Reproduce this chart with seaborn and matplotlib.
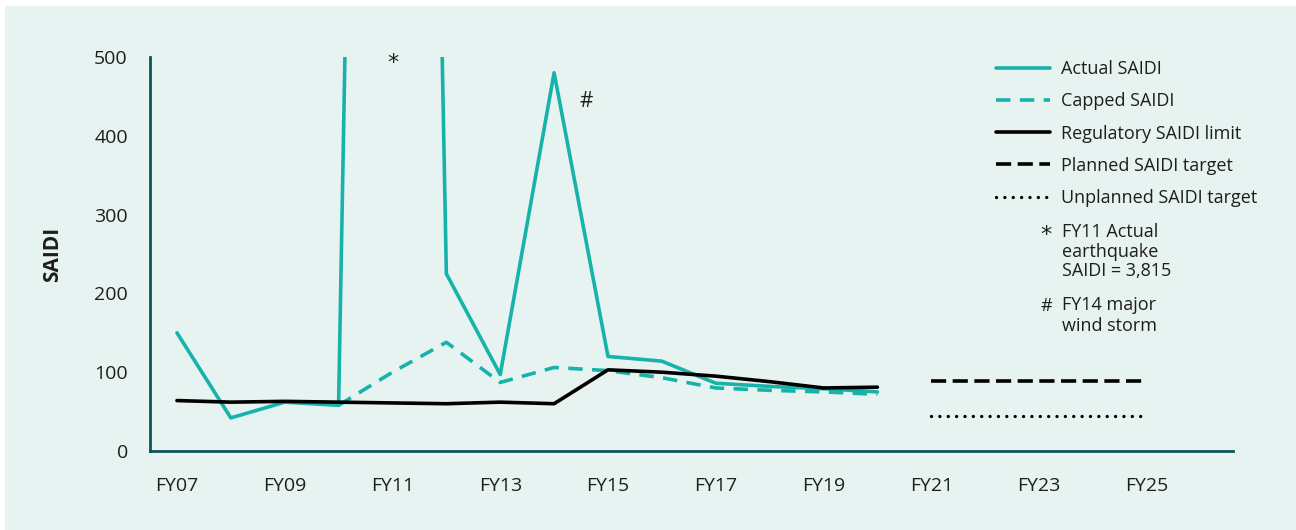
import pandas as pd
import seaborn as sns
import matplotlib.pyplot as plt
from matplotlib.patches import Rectangle

# SAIDI by financial year
years = [2007, 2008, 2009, 2010, 2011, 2012, 2013, 2014, 2015, 2016, 2017, 2018, 2019, 2020]
actual_saidi = [150, 42, 62, 58, 3815, 225, 97, 480, 120, 114, 86, 82, 79, 75]
regulatory_limit = [64, 62, 63, 62, 61, 60, 62, 60, 103, 100, 95, 88, 80, 81]

capped_years = [2010, 2011, 2012, 2013, 2014, 2015, 2016, 2017, 2018, 2019, 2020]
capped_saidi = [58, 100, 138, 87, 106, 102, 93, 80, 77, 75, 72]

target_years = [2021, 2022, 2023, 2024, 2025]
planned_target = [89, 89, 89, 89, 89]
unplanned_target = [45, 45, 45, 45, 45]

tick_years = [2007, 2009, 2011, 2013, 2015, 2017, 2019, 2021, 2023, 2025]
tick_labels = ["FY07", "FY09", "FY11", "FY13", "FY15", "FY17", "FY19", "FY21", "FY23", "FY25"]

# colours
bg = "#e7f3f0"
teal = "#17b3aa"
spine_col = "#0f535c"
text_col = "#1e1e1e"

sns.set_style("white")
plt.rcParams["font.family"] = ["Open Sans", "DejaVu Sans"]

W, H = 1296, 530
fs = 14      # tick labels
lfs = 13     # legend and notes
fig = plt.figure(figsize=(W / 100, H / 100), dpi=100, facecolor="white")
fig.patches.append(Rectangle((5 / W, 0), 1, (H - 6) / H, transform=fig.transFigure,
                             facecolor=bg, edgecolor="none", zorder=-1))

ax = fig.add_axes([150 / W, (H - 451) / H, (1233 - 150) / W, (451 - 57) / H])
ax.set_facecolor("none")

lw = 2.6
sns.lineplot(x=years, y=actual_saidi, ax=ax, color=teal, linewidth=lw, label="Actual SAIDI")
sns.lineplot(x=capped_years, y=capped_saidi, ax=ax, color=teal, linewidth=lw,
             linestyle=(0, (4, 2.6)), label="Capped SAIDI")
sns.lineplot(x=years, y=regulatory_limit, ax=ax, color="black", linewidth=lw,
             label="Regulatory SAIDI limit")
sns.lineplot(x=target_years, y=planned_target, ax=ax, color="black", linewidth=lw,
             linestyle=(0, (4.2, 1.8)), label="Planned SAIDI target")
sns.lineplot(x=target_years, y=unplanned_target, ax=ax, color="black", linewidth=2.4,
             linestyle=(0, (0.01, 2.5)), dash_capstyle="round", label="Unplanned SAIDI target")

ax.set_xlim(2006.5, 2026.6)
ax.set_ylim(0, 500)
ax.set_xticks(tick_years)
ax.set_xticklabels(tick_labels)
ax.set_yticks([0, 100, 200, 300, 400, 500])
ax.tick_params(axis="both", length=0, labelsize=fs, colors=text_col)
ax.tick_params(axis="x", pad=19)
ax.tick_params(axis="y", pad=16)

for side in ["top", "right"]:
    ax.spines[side].set_visible(False)
for side in ["left", "bottom"]:
    ax.spines[side].set_color(spine_col)
    ax.spines[side].set_linewidth(2)

ax.set_xlabel("")
ax.set_ylabel("SAIDI", fontsize=15, fontweight="bold", color=text_col)
ax.yaxis.set_label_coords(-(150 - 63) / (1233 - 150), 0.5)

# event markers
star_font = ["DejaVu Sans"]
ax.text(2011, 492, "*", ha="center", va="center", fontsize=16, color=text_col,
        family=star_font, clip_on=False)
ax.text(2014.6, 444, "#", ha="center", va="center", fontsize=15, color=text_col)

# legend
handles, labels = ax.get_legend_handles_labels()
ax.get_legend().remove()
fig.legend(handles, labels, loc="upper left", bbox_to_anchor=(996 / W, (H - 60) / H),
           frameon=False, fontsize=lfs, handlelength=3.0, handletextpad=0.62,
           labelspacing=0.79, borderpad=0, borderaxespad=0, labelcolor=text_col)

# footnotes
fig.text(1046 / W, (H - 235) / H, "*", ha="center", va="center", fontsize=16,
         family=star_font, color=text_col)
fig.text(1062 / W, (H - 223) / H, "FY11 Actual\nearthquake\nSAIDI = 3,815", ha="left", va="top",
         fontsize=lfs, color=text_col, linespacing=1.12)
fig.text(1046 / W, (H - 306) / H, "#", ha="center", va="center", fontsize=13, color=text_col)
fig.text(1062 / W, (H - 296) / H, "FY14 major\nwind storm", ha="left", va="top",
         fontsize=lfs, color=text_col, linespacing=1.2)

fig.savefig("out.png", dpi=100, facecolor=fig.get_facecolor())
